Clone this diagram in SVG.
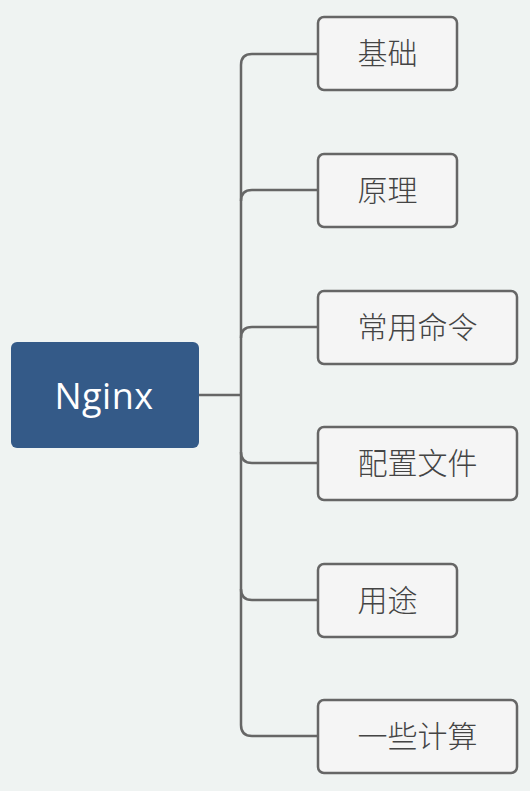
<svg xmlns="http://www.w3.org/2000/svg" width="530" height="791" viewBox="0 0 530 791">
<style>
.bg{fill:#eff3f2}
.root{fill:#345a88}
.rt{fill:#ffffff;font-family:"Open Sans","Noto Sans","Liberation Sans",sans-serif;font-size:36px;text-anchor:middle;letter-spacing:0.5px}
.box{fill:#f5f5f5;stroke:#666666;stroke-width:2.5}
.t{fill:#444444;font-family:"Noto Sans CJK SC","Noto Sans",sans-serif;font-size:30px;font-weight:300;text-anchor:middle;dominant-baseline:central}
.c{fill:none;stroke:#666666;stroke-width:2.5}
</style>
<rect class="bg" x="0" y="0" width="530" height="791"/>
<g id="connectors">
<path class="c" d="M199,395 H241"/>
<path class="c" d="M318,54 H252 Q241,54 241,65 V725 Q241,736 252,736 H318"/>
<path class="c" d="M318,190 H252 Q241,190 241,201"/>
<path class="c" d="M318,327 H252 Q241,327 241,338"/>
<path class="c" d="M318,463 H252 Q241,463 241,452"/>
<path class="c" d="M318,600 H252 Q241,600 241,589"/>
</g>
<g id="root">
<rect class="root" x="11" y="342" width="188" height="106" rx="6"/>
<text class="rt" x="104" y="409">Nginx</text>
</g>
<g id="n1">
<rect class="box" x="318" y="17" width="139" height="73" rx="6"/>
<text class="t" x="387.5" y="51">基础</text>
</g>
<g id="n2">
<rect class="box" x="318" y="154" width="139" height="73" rx="6"/>
<text class="t" x="387.5" y="188">原理</text>
</g>
<g id="n3">
<rect class="box" x="318" y="291" width="199" height="73" rx="6"/>
<text class="t" x="417.5" y="325">常用命令</text>
</g>
<g id="n4">
<rect class="box" x="318" y="427" width="199" height="73" rx="6"/>
<text class="t" x="417.5" y="461">配置文件</text>
</g>
<g id="n5">
<rect class="box" x="318" y="564" width="139" height="73" rx="6"/>
<text class="t" x="387.5" y="598">用途</text>
</g>
<g id="n6">
<rect class="box" x="318" y="700" width="199" height="73" rx="6"/>
<text class="t" x="417.5" y="734">一些计算</text>
</g>
</svg>
